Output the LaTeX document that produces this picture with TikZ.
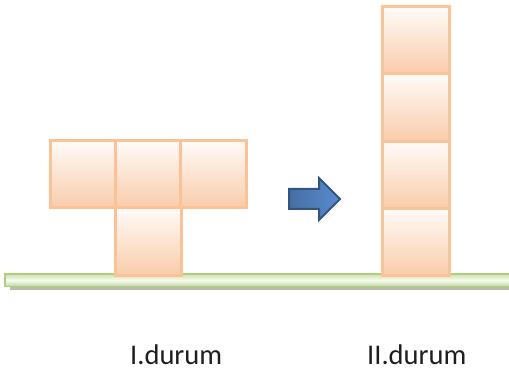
\documentclass[tikz,border=0pt]{standalone}
\usepackage{fontspec}
\setmainfont{Carlito}
\definecolor{cellline}{RGB}{250,194,150}
\definecolor{celltop}{RGB}{255,251,248}
\definecolor{cellbot}{RGB}{249,204,170}
\definecolor{groundline}{RGB}{176,206,128}
\definecolor{groundtop}{RGB}{205,226,170}
\definecolor{groundmid}{RGB}{248,252,242}
\definecolor{groundbot}{RGB}{190,214,150}
\definecolor{groundshadow}{RGB}{150,162,130}
\definecolor{arrowline}{RGB}{52,84,128}
\definecolor{arrowleft}{RGB}{70,110,165}
\definecolor{arrowright}{RGB}{88,140,205}
\definecolor{labeltext}{RGB}{30,30,30}
\tikzset{
  cell/.style={draw=cellline, line width=3pt, top color=celltop,
    bottom color=cellbot, inner sep=0pt, minimum width=65.5pt,
    minimum height=67.3pt},
  caption/.style={anchor=base west, inner sep=0pt, text=labeltext,
    font=\fontsize{28.5}{34}\selectfont},
}
\begin{document}
\begin{tikzpicture}[x=1pt, y=-1pt]
\useasboundingbox (0,0) rectangle (509,374);

% ground bar with its shadow
\fill[groundshadow, opacity=0.7] (10,278) rectangle (512,290);
\shade[top color=groundtop, bottom color=groundbot, middle color=groundmid,
  draw=groundline, line width=1.2pt] (5,274) rectangle (512,286.5);

% first state: T shape
\node[cell] (a1) at (83,174) {};
\node[cell] (a2) at (148.5,174) {};
\node[cell] (a3) at (213.5,174) {};
\node[cell] (a4) at (148.5,241.5) {};

% second state: vertical column
\node[cell, minimum width=67.5pt] (b1) at (416,40.3) {};
\node[cell, minimum width=67.5pt] (b2) at (416,107.6) {};
\node[cell, minimum width=67.5pt] (b3) at (416,174.9) {};
\node[cell, minimum width=67.5pt] (b4) at (416,241.7) {};

% block arrow between the states
\shade[left color=arrowleft, right color=arrowright, draw=arrowline,
  line width=2pt, line join=miter]
  (289,189) -- (319,189) -- (319,178) -- (340,199) -- (319,220)
  -- (319,209) -- (289,209) -- cycle;

% captions
\node[caption] (t1) at (130,364) {I.durum};
\node[caption] (t2) at (367,364) {II.durum};
\end{tikzpicture}
\end{document}
